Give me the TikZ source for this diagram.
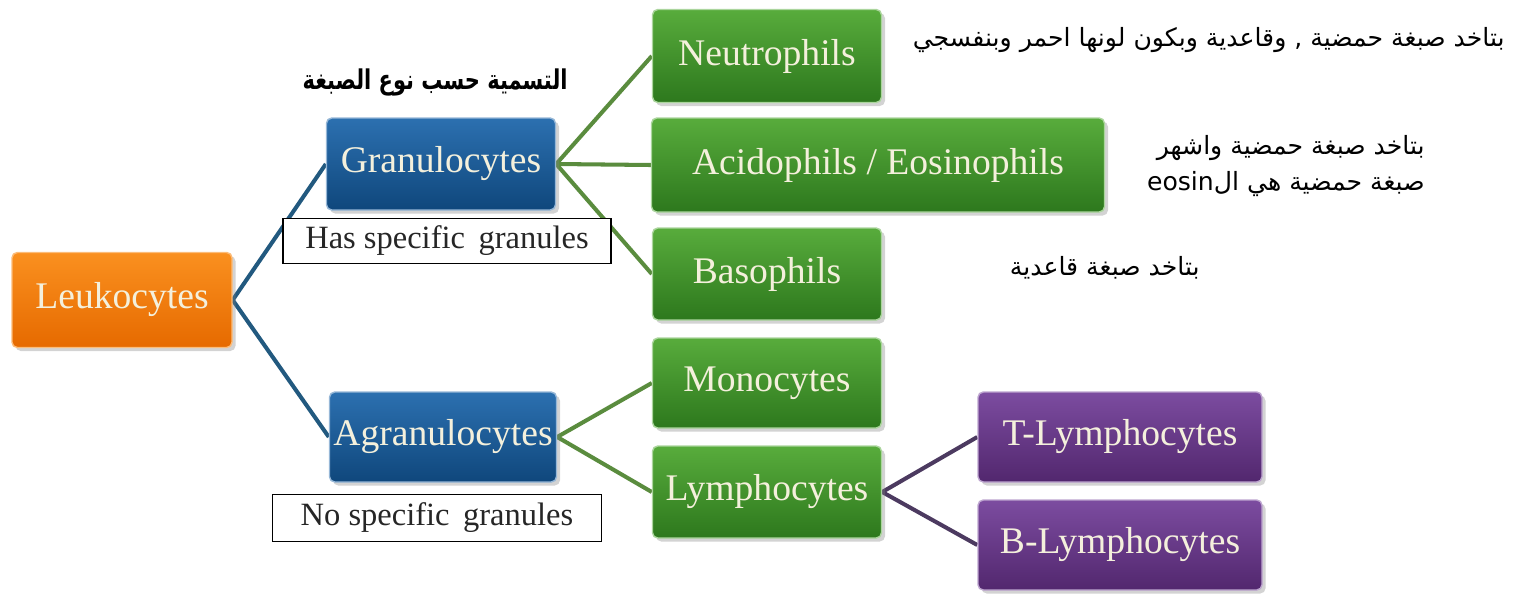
\documentclass[tikz,border=0pt]{standalone}
\usepackage{fontspec}
\setmainfont{Liberation Serif}
\newfontfamily\arabicfont[Script=Arabic]{DejaVu Sans}
\TeXXeTstate=1
\usetikzlibrary{shadows,backgrounds}
\definecolor{boxtext}{HTML}{F4F0DC}
\definecolor{orgT}{HTML}{FA901F}\definecolor{orgB}{HTML}{E66A00}
\definecolor{bluT}{HTML}{2C70B0}\definecolor{bluB}{HTML}{0F477C}
\definecolor{grnT}{HTML}{58AC3C}\definecolor{grnB}{HTML}{2D781D}
\definecolor{purT}{HTML}{7C4CA0}\definecolor{purB}{HTML}{52276E}
\definecolor{lineblue}{HTML}{22597F}
\definecolor{linegreen}{HTML}{5A8C3E}
\definecolor{linepurple}{HTML}{4C3A60}
\tikzset{
  x=0.02cm, y=-0.02cm,
  cell/.style={rounded corners=3pt, inner sep=0pt, align=center,
    text=boxtext, font=\fontsize{21.4}{24}\selectfont,
    drop shadow={opacity=0.35, shadow xshift=2pt, shadow yshift=-2pt}},
  orangebox/.style={cell, top color=orgT, bottom color=orgB, draw=orgT!60!white, line width=0.8pt},
  bluebox/.style={cell, top color=bluT, bottom color=bluB, draw=bluT!50!white, line width=0.8pt},
  greenbox/.style={cell, top color=grnT, bottom color=grnB, draw=grnT!50!white, line width=0.8pt},
  purplebox/.style={cell, top color=purT, bottom color=purB, draw=purT!50!white, line width=0.8pt},
  labelbox/.style={draw=black, line width=0.9pt, fill=white, inner sep=0pt,
    font=\fontsize{18.5}{22}\selectfont, text=black!85},
  link/.style={line width=2.3pt},
  artext/.style={inner sep=0pt, font=\arabicfont\fontsize{14.3}{21}\selectfont, align=right},
}
\begin{document}
\begin{tikzpicture}
\useasboundingbox (0,0) rectangle (1517,599);
% boxes
\node[orangebox, minimum width=220*0.02cm, minimum height=95*0.02cm] (leuk) at (122,300) {Leukocytes};
\node[bluebox, minimum width=229*0.02cm, minimum height=92*0.02cm] (gran) at (441,164) {Granulocytes};
\node[bluebox, minimum width=227*0.02cm, minimum height=90*0.02cm] (agran) at (443,437) {Agranulocytes};
\node[greenbox, minimum width=229*0.02cm, minimum height=93*0.02cm] (neut) at (767,56) {Neutrophils};
\node[greenbox, minimum width=453*0.02cm, minimum height=94*0.02cm] (acid) at (878,165) {Acidophils / Eosinophils};
\node[greenbox, minimum width=229*0.02cm, minimum height=92*0.02cm] (baso) at (767,274) {Basophils};
\node[greenbox, minimum width=229*0.02cm, minimum height=90*0.02cm] (mono) at (767,383) {Monocytes};
\node[greenbox, minimum width=229*0.02cm, minimum height=92*0.02cm] (lymph) at (767,492) {Lymphocytes};
\node[purplebox, minimum width=284*0.02cm, minimum height=90*0.02cm] (tl) at (1120,437) {T-Lymphocytes};
\node[purplebox, minimum width=284*0.02cm, minimum height=90*0.02cm] (bl) at (1120,545) {B-Lymphocytes};
% label boxes
\node[labelbox, minimum width=328*0.02cm, minimum height=45*0.02cm] (has) at (447,241) {Has specific\, granules};
\node[labelbox, minimum width=329*0.02cm, minimum height=47*0.02cm] (nosp) at (437,518) {No specific\, granules};
% connectors
\begin{scope}[on background layer]
\draw[link, lineblue] (leuk.east) -- (gran.west);
\draw[link, lineblue] (leuk.east) -- (agran.west);
\draw[link, linegreen] (gran.east) -- (neut.west);
\draw[link, linegreen] (gran.east) -- (acid.west);
\draw[link, linegreen] (gran.east) -- (baso.west);
\draw[link, linegreen] (agran.east) -- (mono.west);
\draw[link, linegreen] (agran.east) -- (lymph.west);
\draw[link, linepurple] (lymph.east) -- (tl.west);
\draw[link, linepurple] (lymph.east) -- (bl.west);
\end{scope}
% arabic texts
\node[artext, font=\arabicfont\bfseries\fontsize{15.5}{21}\selectfont, anchor=east] (title) at (568,82) {\scalebox{0.77}[1]{\beginR التسمية حسب نوع الصبغة\endR}};
\node[artext, anchor=east] (neutnote) at (1505,40) {\beginR بتاخد صبغة حمضية ,  وقاعدية  وبكون لونها احمر وبنفسجي\endR};
\node[artext, anchor=east] (acidnote) at (1425,166) {\beginR بتاخد صبغة حمضية واشهر\endR\\\beginR صبغة حمضية هي ال\beginL eosin\endL\endR};
\node[artext, anchor=east] (basonote) at (1200,268) {\beginR بتاخد صبغة قاعدية\endR};
\end{tikzpicture}
\end{document}
